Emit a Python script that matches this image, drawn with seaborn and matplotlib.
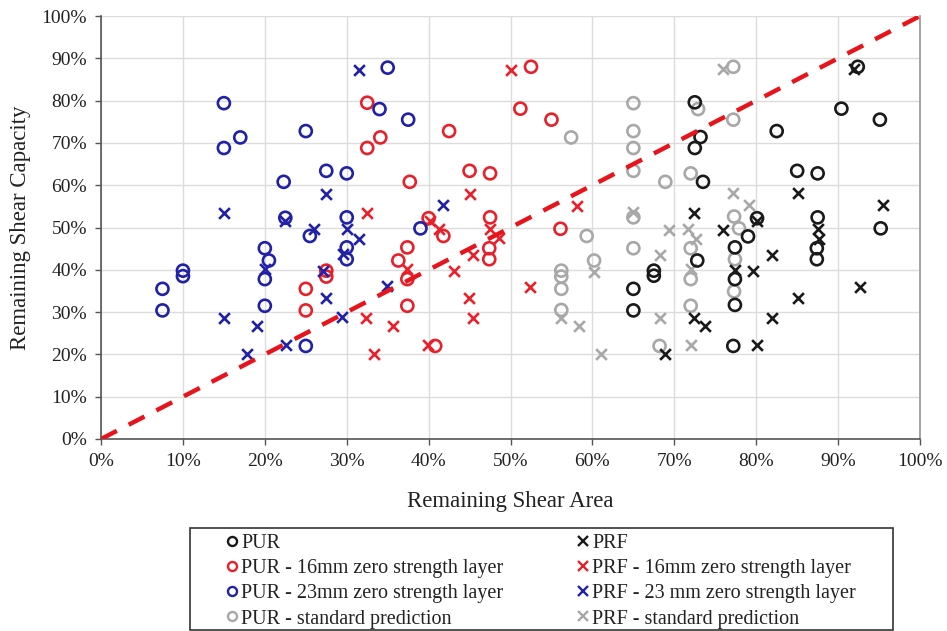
import matplotlib
matplotlib.use("Agg")
import matplotlib.pyplot as plt
from matplotlib.patches import Rectangle
from matplotlib.ticker import PercentFormatter, MultipleLocator
import seaborn as sns

# remaining shear area (%) / remaining shear capacity (%)
pur_x = [72.5, 73.2, 72.5, 73.5, 65, 65, 67.5, 67.5, 72.8, 77.2, 77.4, 77.4, 77.4, 79, 80.1,
         82.5, 90.4, 95.1, 92.4, 85, 87.5, 87.5, 87.4, 87.4, 95.2]
pur_y = [79.6, 71.4, 68.8, 60.8, 35.5, 30.4, 39.8, 38.6, 42.2, 22, 45.3, 37.8, 31.7, 47.9, 52.2,
         72.8, 78.1, 75.5, 88, 63.4, 62.8, 52.4, 45.1, 42.5, 49.8]

prf_x = [72.4, 76, 68.9, 72.4, 73.8, 77.4, 79.6, 81.9, 85.1, 81.9, 80.1, 87.7, 87.5, 92.7, 92,
         85.1, 95.5, 80.1]
prf_y = [53.5, 49.5, 20, 28.7, 26.8, 40, 39.6, 43.5, 33.3, 28.7, 22.3, 47.2, 49.7, 36, 87.4,
         58.1, 55.3, 51.6]

pur16_x = [25, 25, 27.5, 27.5, 32.5, 34.1, 32.5, 42.5, 37.7, 45, 47.5, 52.5, 51.2, 55, 47.5,
           40, 41.8, 37.4, 36.3, 37.4, 37.4, 40.8, 47.4, 47.4, 56.1]
pur16_y = [35.5, 30.4, 39.8, 38.4, 79.5, 71.3, 68.8, 72.8, 60.8, 63.4, 62.8, 88, 78.1, 75.5, 52.4,
           52.2, 48, 45.3, 42.2, 37.8, 31.5, 22, 45.1, 42.5, 49.7]

prf16_x = [50, 45, 32.5, 40.2, 41.3, 47.5, 48.6, 37.4, 32.4, 35.7, 33.3, 39.9, 45.4, 43.1, 44.9,
           45.4, 52.4, 58.1]
prf16_y = [87.3, 58, 53.4, 51.6, 49.6, 49.6, 47.6, 40.2, 28.6, 26.8, 20, 22.3, 43.6, 39.6, 33.3,
           28.7, 36, 55.2]

pur23_x = [15, 17, 15, 25, 22.3, 22.5, 25.5, 7.5, 7.5, 10, 10, 20, 20.5, 20, 20, 25, 35, 34,
           37.5, 27.5, 30, 30, 39, 30, 30]
pur23_y = [79.4, 71.3, 68.8, 72.8, 60.8, 52.3, 48, 35.5, 30.4, 39.8, 38.5, 45.1, 42.2, 37.8, 31.5,
           22, 87.8, 78, 75.5, 63.4, 62.8, 52.4, 49.8, 45.3, 42.5]

prf23_x = [15, 22.5, 26, 20, 15, 19, 17.8, 22.6, 31.5, 27.5, 41.8, 30, 31.5, 29.5, 27.1, 27.5,
           29.4, 34.9]
prf23_y = [53.5, 51.5, 49.6, 40.3, 28.7, 26.8, 20, 22.3, 87.3, 58, 55.3, 49.7, 47.3, 43.8, 39.6,
           33.3, 28.8, 36.1]

purstd_x = [57.4, 59.3, 65, 65, 65, 65, 68.9, 72, 72.9, 77.2, 77.2, 65, 77.3, 65, 60.2, 56.2,
            56.2, 56.2, 56.2, 68.2, 72, 72, 72, 77.4, 77.3, 77.9]
purstd_y = [71.3, 48, 79.4, 72.8, 68.8, 63.4, 60.8, 62.8, 78, 75.5, 88, 52.4, 52.6, 45.1, 42.2,
            39.8, 38.4, 35.5, 30.5, 22, 45.1, 37.8, 31.5, 42.5, 34.9, 49.8]

prfstd_x = [76, 77.2, 65, 69.3, 71.7, 72.7, 60.2, 56.2, 58.4, 61.1, 68.2, 68.2, 72, 72, 79.1]
prfstd_y = [87.5, 58.1, 53.6, 49.5, 49.7, 47.3, 39.4, 28.6, 26.8, 20, 43.5, 28.7, 40.2, 22.3, 55.3]

sns.set_theme(style="white")
plt.rcParams['font.family'] = ['Liberation Serif', 'DejaVu Serif']

fig = plt.figure(figsize=(9.47, 6.31), dpi=100)
ax = fig.add_axes([0.1067, 0.3043, 0.8648, 0.6703])

black = '#1a1a1a'
red = '#e8202a'
blue = '#2020a8'
gray = '#a8a8a8'

pur_series = [
    (pur_x, pur_y, black, 'PUR'),
    (pur16_x, pur16_y, red, 'PUR - 16mm zero strength layer'),
    (pur23_x, pur23_y, blue, 'PUR - 23mm zero strength layer'),
    (purstd_x, purstd_y, gray, 'PUR - standard prediction'),
]
prf_series = [
    (prf_x, prf_y, black, 'PRF'),
    (prf16_x, prf16_y, red, 'PRF - 16mm zero strength layer'),
    (prf23_x, prf23_y, blue, 'PRF - 23 mm zero strength layer'),
    (prfstd_x, prfstd_y, gray, 'PRF - standard prediction'),
]

# grey first so coloured points sit on top
for i in [3, 0, 1, 2]:
    xs, ys, c, lab = pur_series[i]
    sns.scatterplot(x=xs, y=ys, ax=ax, marker='o', s=75, facecolors='none',
                    edgecolor=c, linewidth=1.9, zorder=3)
    xs, ys, c, lab = prf_series[i]
    sns.scatterplot(x=xs, y=ys, ax=ax, marker='x', s=60, color=c,
                    linewidth=1.9, zorder=3)

ax.plot([0, 100], [0, 100], color='#e8141c', lw=3.2, ls=(0, (4, 3)), zorder=4)

ax.set_xlim(0, 100)
ax.set_ylim(0, 100)
ax.xaxis.set_major_locator(MultipleLocator(10))
ax.yaxis.set_major_locator(MultipleLocator(10))
ax.xaxis.set_major_formatter(PercentFormatter(100, decimals=0))
ax.yaxis.set_major_formatter(PercentFormatter(100, decimals=0))
ax.grid(True, color='#dcdcdc', lw=1)
ax.set_axisbelow(True)
for side in ['left', 'bottom']:
    ax.spines[side].set_color('#555555')
    ax.spines[side].set_linewidth(1.2)
ax.spines['right'].set_color('#999999')
ax.spines['top'].set_visible(False)
ax.tick_params(axis='both', direction='out', length=4, width=1, color='#555555',
               labelsize=14, labelcolor='#222222', bottom=True, left=True, pad=6)

ax.set_xlabel('Remaining Shear Area', fontsize=16.5, color='#222222', labelpad=15)
ax.set_ylabel('Remaining Shear Capacity', fontsize=16.5, color='#222222', labelpad=8)


def make_handles(series, m):
    hs = []
    for xs, ys, c, lab in series:
        if m == 'o':
            hs.append(plt.Line2D([], [], ls='none', marker='o', markersize=6.5,
                                 markerfacecolor='none', markeredgecolor=c,
                                 markeredgewidth=1.7, label=lab))
        else:
            hs.append(plt.Line2D([], [], ls='none', marker='x', markersize=6.5, color=c,
                                 markeredgewidth=1.7, label=lab))
    return hs


# legend frame drawn by hand, two columns placed inside it
fig.patches.append(Rectangle((190 / 947, 1 / 631), 703 / 947, 102 / 631,
                             transform=fig.transFigure, fill=False,
                             edgecolor='#333333', lw=1.2))
for hs, x0 in [(make_handles(pur_series, 'o'), 226 / 947),
               (make_handles(prf_series, 'x'), 577 / 947)]:
    lg = fig.legend(handles=hs, loc='upper left', bbox_to_anchor=(x0, 1 - 534 / 631),
                    fontsize=14.5, frameon=False, handlelength=0.6, handletextpad=0.15,
                    labelspacing=0.3, borderpad=0, borderaxespad=0)
    for t in lg.get_texts():
        t.set_color('#222222')

fig.savefig('out.png', dpi=100)
